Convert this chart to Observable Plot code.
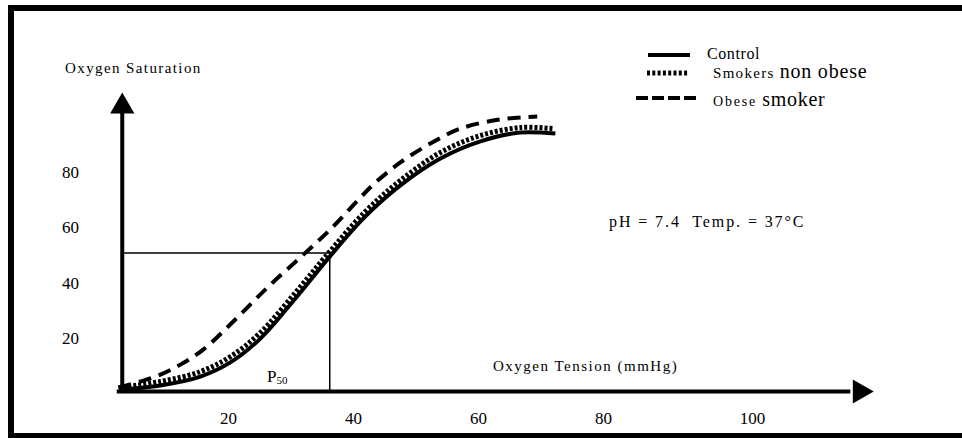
<!DOCTYPE html>
<html>
<head>
<meta charset="utf-8">
<script src="https://cdn.jsdelivr.net/npm/d3@7"></script>
<script src="https://cdn.jsdelivr.net/npm/@observablehq/plot@0.6"></script>
<style>
  html, body { margin: 0; padding: 0; background: #fff; }
  #wrap { position: relative; width: 962px; height: 438px; overflow: hidden; font-family: "Liberation Serif", "Times New Roman", serif; }
  #border { position: absolute; left: 8px; top: 5px; width: 1000px; height: 434px; border: 6px solid #000; box-sizing: border-box; }
  #chart { position: absolute; left: 0; top: 0; }
  #overlay { position: absolute; left: 0; top: 0; }
</style>
</head>
<body>
<div id="wrap">
  <div id="border"></div>
  <div id="chart"></div>
  <svg id="overlay" width="962" height="438"></svg>
</div>
<script>
// ---- data ----
const seriesNames = ["Control", "Smokers non obese", "Obese smoker"];

const controlTension = [3.0, 9.1, 15.5, 20.3, 25.1, 30.7, 36.2, 41.9, 47.5, 53.9, 60.3, 66.7, 72.3];
const controlSat     = [0.7, 2.2, 5.4, 10.5, 19.1, 33.6, 48.7, 63.2, 74.4, 84.1, 90.3, 93.5, 93.1];

const smokerTension  = [2.4, 9.1, 15.5, 20.3, 25.1, 30.7, 35.5, 41.9, 47.5, 53.9, 60.3, 66.7, 72.0];
const smokerSat      = [1.4, 3.6, 7.2, 12.6, 21.3, 35.7, 48.7, 65.0, 76.2, 86.3, 92.4, 95.3, 94.9];

const obeseTension   = [2.4, 5.9, 9.1, 12.3, 16.0, 21.4, 26.4, 31.5, 36.6, 41.1, 43.5, 47.5, 52.3, 57.1, 63.5, 69.4];
const obeseSat       = [1.4, 3.6, 6.1, 9.7, 15.2, 26.7, 37.9, 48.4, 59.2, 70.0, 75.4, 82.7, 89.5, 94.9, 98.2, 99.3];

const xTicks = [20, 40, 60, 80, 100];
const yTicks = [20, 40, 60, 80];
const p50Tension = 36.2;
const p50Sat = 50;

const xLabel = "Oxygen Tension (mmHg)";
const yLabel = "Oxygen Saturation";
const conditions = "pH = 7.4  Temp. = 37°C";

// ---- build tables ----
const toRows = (xs, ys, name) => xs.map((t, i) => ({tension: t, sat: ys[i], series: name}));
const control = toRows(controlTension, controlSat, seriesNames[0]);
const smokers = toRows(smokerTension, smokerSat, seriesNames[1]);
const obese   = toRows(obeseTension, obeseSat, seriesNames[2]);

const SERIF = "'Liberation Serif', 'Times New Roman', serif";

const chart = Plot.plot({
  width: 962,
  height: 438,
  marginTop: 0, marginRight: 0, marginBottom: 0, marginLeft: 0,
  x: {type: "linear", domain: [0, 80, 100], range: [103, 603, 752], axis: null},
  y: {type: "linear", domain: [0, 100], range: [391, 114], axis: null},
  style: {fontFamily: SERIF, background: "transparent", overflow: "visible", color: "#000"},
  marks: [
    // P50 guide lines
    Plot.ruleY([p50Sat], {x1: 3, x2: p50Tension, stroke: "#000", strokeWidth: 1.5}),
    Plot.ruleX([p50Tension], {y1: 0, y2: p50Sat, stroke: "#000", strokeWidth: 1.5}),
    // axis lines with arrowheads
    Plot.ruleX([3], {y1: 0, y2: 100.4, stroke: "#000", strokeWidth: 4}),
    Plot.ruleY([0], {x1: 2.2, x2: 113.2, stroke: "#000", strokeWidth: 4}),
    Plot.dot([[3, 102.9]], {x: d => d[0], y: d => d[1], symbol: "triangle", r: 9, fill: "#000", stroke: null}),
    Plot.dot([[114.4, 0]], {x: d => d[0], y: d => d[1], symbol: "triangle", r: 9, fill: "#000", stroke: null, rotate: 90}),
    // curves
    Plot.line(control, {x: "tension", y: "sat", curve: "catmull-rom", stroke: "#000", strokeWidth: 4, strokeLinecap: "butt"}),
    Plot.line(smokers, {x: "tension", y: "sat", curve: "catmull-rom", stroke: "#000", strokeWidth: 5, strokeDasharray: "3,2", strokeLinecap: "butt"}),
    Plot.line(obese, {x: "tension", y: "sat", curve: "catmull-rom", stroke: "#000", strokeWidth: 4, strokeDasharray: "13,8", strokeLinecap: "butt"}),
    // tick labels
    Plot.text(xTicks, {x: d => d, text: d => String(d), frameAnchor: "top", dy: 418, lineAnchor: "middle", fontSize: 17, fill: "#000"}),
    Plot.text(yTicks, {y: d => d, text: d => String(d), frameAnchor: "left", dx: 70, dy: 2.5, lineAnchor: "middle", textAnchor: "middle", fontSize: 17, fill: "#000"})
  ]
});
document.getElementById("chart").appendChild(chart);

// ---- annotations & legend overlay ----
const NS = "http://www.w3.org/2000/svg";
const ov = document.getElementById("overlay");
function addText(parts, x, y) {
  const t = document.createElementNS(NS, "text");
  t.setAttribute("x", x); t.setAttribute("y", y);
  t.setAttribute("font-family", "Liberation Serif, Times New Roman, serif");
  t.setAttribute("fill", "#000");
  t.style.whiteSpace = "pre";
  for (const p of parts) {
    const s = document.createElementNS(NS, "tspan");
    s.textContent = p.text;
    s.setAttribute("font-family", "Liberation Serif, Times New Roman, serif");
    s.setAttribute("font-size", p.size);
    if (p.ls) s.setAttribute("letter-spacing", p.ls);
    if (p.dy) s.setAttribute("dy", p.dy);
    t.appendChild(s);
  }
  ov.appendChild(t);
}
function addLine(x1, x2, y, w, dash) {
  const l = document.createElementNS(NS, "line");
  l.setAttribute("x1", x1); l.setAttribute("x2", x2);
  l.setAttribute("y1", y); l.setAttribute("y2", y);
  l.setAttribute("stroke", "#000"); l.setAttribute("stroke-width", w);
  if (dash) l.setAttribute("stroke-dasharray", dash);
  ov.appendChild(l);
}

addText([{text: yLabel, size: 15, ls: 1.4}], 65, 73);
addText([{text: xLabel, size: 15, ls: 1.5}], 493, 371);
addText([{text: conditions, size: 16, ls: 1.9}], 609, 227);
addText([{text: "P", size: 17}, {text: "50", size: 11, dy: 2}], 267, 382);

// legend
addLine(648, 690, 55, 4, null);
addLine(647, 689, 73, 5, "3,2.3");
addLine(636, 700, 98, 4, "12,4");
addText([{text: "Control", size: 16, ls: 0.6}], 707, 59);
addText([{text: "Smokers ", size: 15, ls: 1.3}, {text: "non obese", size: 20, ls: 0.8}], 713, 78);
addText([{text: "Obese ", size: 14, ls: 1.8}, {text: "smoker", size: 20, ls: 0.7}], 713, 106);
</script>
</body>
</html>
